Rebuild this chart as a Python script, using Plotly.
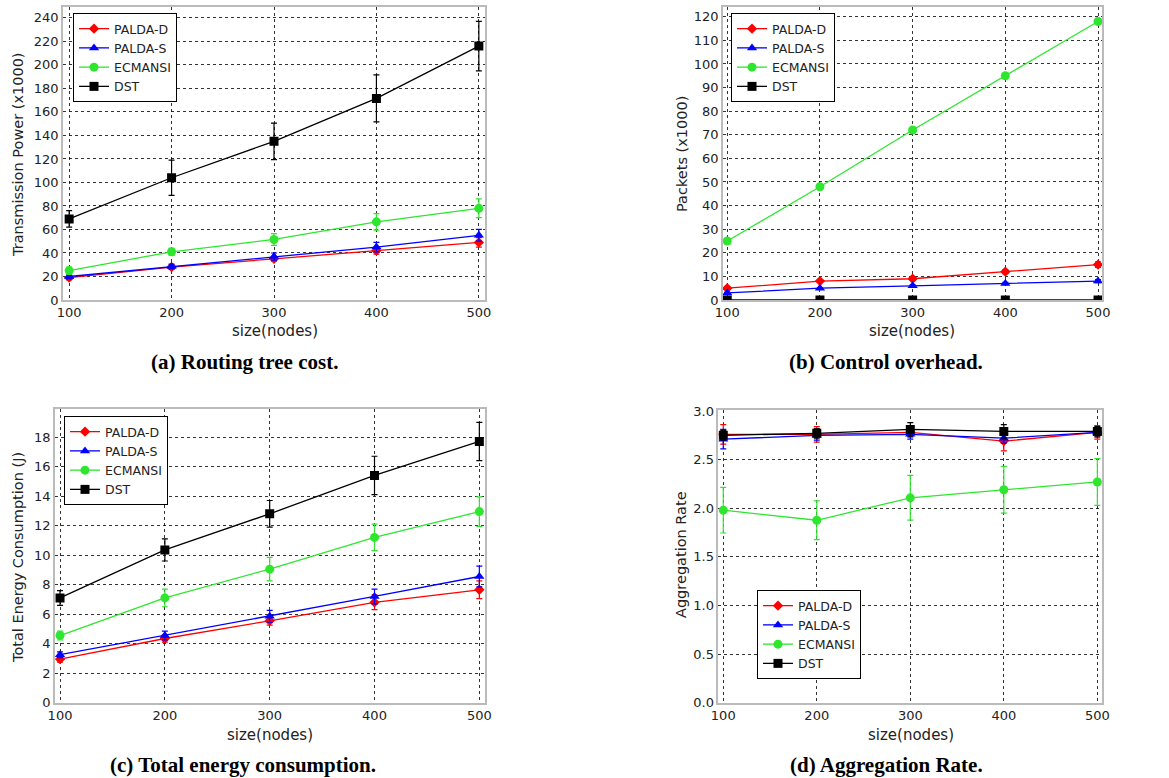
import plotly.graph_objects as go

W, H = 1169, 778

sizes = [100, 200, 300, 400, 500]
names = ["PALDA-D", "PALDA-S", "ECMANSI", "DST"]

# (a) Routing tree cost -- Transmission Power (x1000)
a_palda_d = [19, 28, 35, 42, 49]
a_palda_d_err = [2, 2, 2, 3, 4]
a_palda_s = [20, 28.5, 37, 45, 55]
a_palda_s_err = [2, 2, 3, 4, 5]
a_ecmansi = [25, 41, 51.5, 66.5, 78]
a_ecmansi_err = [3, 3, 5, 7, 8]
a_dst = [69, 104, 135, 171.5, 216]
a_dst_err = [7, 15, 15.5, 20, 21]

# (b) Control overhead -- Packets (x1000)
b_palda_d = [5, 8, 9, 12, 15]
b_palda_d_err = [0.5, 0.5, 0.5, 0.8, 1.2]
b_palda_s = [3, 5, 6, 7, 8]
b_palda_s_err = [0.3, 0.3, 0.4, 0.5, 0.6]
b_ecmansi = [25, 48, 72, 95, 118]
b_ecmansi_err = [0.5, 0.5, 0.5, 0.5, 0.5]
b_dst = [0, 0, 0, 0, 0]
b_dst_err = [0.3, 0.3, 0.3, 0.3, 0.3]

# (c) Total energy consumption (J)
c_palda_d = [2.95, 4.35, 5.55, 6.8, 7.65]
c_palda_d_err = [0.2, 0.25, 0.3, 0.5, 0.6]
c_palda_s = [3.25, 4.55, 5.85, 7.2, 8.55]
c_palda_s_err = [0.2, 0.3, 0.4, 0.5, 0.7]
c_ecmansi = [4.55, 7.1, 9.05, 11.2, 12.95]
c_ecmansi_err = [0.3, 0.6, 0.8, 0.9, 1.0]
c_dst = [7.1, 10.35, 12.8, 15.4, 17.7]
c_dst_err = [0.5, 0.75, 0.9, 1.3, 1.3]

# (d) Aggregation Rate
d_palda_d = [2.76, 2.76, 2.78, 2.69, 2.78]
d_palda_d_err = [0.1, 0.08, 0.05, 0.1, 0.07]
d_palda_s = [2.71, 2.75, 2.76, 2.72, 2.78]
d_palda_s_err = [0.1, 0.05, 0.05, 0.05, 0.05]
d_ecmansi = [1.98, 1.876, 2.107, 2.19, 2.27]
d_ecmansi_err = [0.235, 0.2, 0.23, 0.24, 0.24]
d_dst = [2.75, 2.77, 2.81, 2.79, 2.79]
d_dst_err = [0.05, 0.05, 0.07, 0.07, 0.05]

colors = ["#ff0000", "#0000ff", "#2ee62e", "#000000"]
symbols = ["diamond", "triangle-up", "circle", "square"]
msizes = [8, 9, 9, 9]

panels = [
    dict(data=[(a_palda_d, a_palda_d_err), (a_palda_s, a_palda_s_err),
               (a_ecmansi, a_ecmansi_err), (a_dst, a_dst_err)],
         xpx=(63, 485), ypx=(7.3, 300), xr=[94, 506], yr=[0, 249],
         dtick=20, tfmt=None, legpx=(73, 13)),
    dict(data=[(b_palda_d, b_palda_d_err), (b_palda_s, b_palda_s_err),
               (b_ecmansi, b_ecmansi_err), (b_dst, b_dst_err)],
         xpx=(723, 1102), ypx=(7.3, 300), xr=[95.4, 504.3], yr=[0, 124],
         dtick=10, tfmt=None, legpx=(731, 13)),
    dict(data=[(c_palda_d, c_palda_d_err), (c_palda_s, c_palda_s_err),
               (c_ecmansi, c_ecmansi_err), (c_dst, c_dst_err)],
         xpx=(55, 485), ypx=(409, 702.7), xr=[95.2, 505.4], yr=[0, 19.9],
         dtick=2, tfmt=None, legpx=(64, 416)),
    dict(data=[(d_palda_d, d_palda_d_err), (d_palda_s, d_palda_s_err),
               (d_ecmansi, d_ecmansi_err), (d_dst, d_dst_err)],
         xpx=(718.3, 1102.3), ypx=(410, 702.7), xr=[94.7, 505.3], yr=[0, 3.01],
         dtick=0.5, tfmt=".1f", legpx=(757, 590)),
]

fig = go.Figure()
layout = {}
for i, p in enumerate(panels):
    n = "" if i == 0 else str(i + 1)
    leg = "legend" if i == 0 else "legend" + str(i + 1)
    for k in range(4):
        vals, errs = p["data"][k]
        fig.add_trace(go.Scatter(
            x=sizes, y=vals, name=names[k], mode="lines+markers",
            xaxis="x" + n, yaxis="y" + n, legend=leg,
            line=dict(color=colors[k], width=1.3),
            marker=dict(symbol=symbols[k], size=msizes[k], color=colors[k]),
            error_y=dict(type="data", array=errs, visible=True,
                         color=colors[k], thickness=1.2, width=3),
        ))
    x0, x1 = p["xpx"]
    y0, y1 = p["ypx"]
    axcommon = dict(showline=True, linecolor="#bbbbbb", linewidth=1.5, mirror=True,
                    showgrid=True, gridcolor="rgba(0,0,0,0.8)", griddash="dot",
                    gridwidth=1, zeroline=False, ticks="", automargin=False,
                    tickfont=dict(family="DejaVu Sans", size=13, color="#222222"))
    layout["xaxis" + n] = dict(axcommon, domain=[x0 / W, x1 / W], range=p["xr"],
                               anchor="y" + n, tickvals=sizes)
    ya = dict(axcommon, domain=[1 - y1 / H, 1 - y0 / H], range=p["yr"],
              anchor="x" + n, dtick=p["dtick"], tick0=0)
    if p["tfmt"]:
        ya["tickformat"] = p["tfmt"]
    layout["yaxis" + n] = ya
    lx, ly = p["legpx"]
    layout[leg] = dict(x=lx / W, y=1 - ly / H, xanchor="left", yanchor="top",
                       xref="paper", yref="paper",
                       bgcolor="white", bordercolor="black", borderwidth=1,
                       font=dict(family="DejaVu Sans", size=12.5, color="#222222"),
                       tracegroupgap=0, itemwidth=30)

fig.update_layout(**layout)

ann = []
def text(x, y, s, size=14, angle=0, fam="DejaVu Sans", bold=False, color="#222222"):
    ann.append(dict(x=x / W, y=1 - y / H, xref="paper", yref="paper",
                    text=("<b>%s</b>" % s) if bold else s, showarrow=False,
                    textangle=angle, xanchor="center", yanchor="middle",
                    font=dict(family=fam, size=size, color=color)))

text(18, 155, "Transmission Power (x1000)", size=14.5, angle=-90)
text(682, 154, "Packets (x1000)", size=14.5, angle=-90)
text(18, 558, "Total Energy Consumption (J)", size=14.5, angle=-90)
text(681, 555, "Aggregation Rate", size=14.5, angle=-90)

text(275, 331, "size(nodes)", size=15)
text(912, 331, "size(nodes)", size=15)
text(270, 735, "size(nodes)", size=15)
text(911, 735, "size(nodes)", size=15)

text(245, 362, "(a) Routing tree cost.", size=21, fam="Liberation Serif", bold=True, color="black")
text(886, 362, "(b) Control overhead.", size=21, fam="Liberation Serif", bold=True, color="black")
text(243, 765, "(c) Total energy consumption.", size=21, fam="Liberation Serif", bold=True, color="black")
text(886, 765, "(d) Aggregation Rate.", size=21, fam="Liberation Serif", bold=True, color="black")

fig.update_layout(width=W, height=H, margin=dict(l=0, r=0, t=0, b=0, pad=0, autoexpand=False),
                  paper_bgcolor="white", plot_bgcolor="white",
                  annotations=ann, showlegend=True)

fig.write_html("out.html", config={"displayModeBar": False},
               post_script="document.body.style.margin='0';document.body.style.overflow='hidden';")
